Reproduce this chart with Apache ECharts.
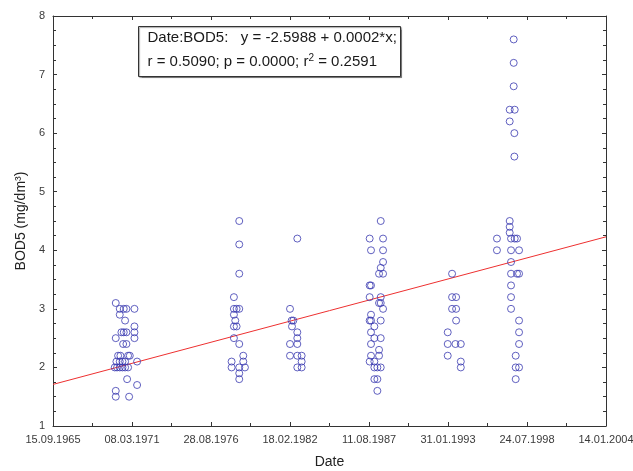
<!DOCTYPE html>
<html><head><meta charset="utf-8">
<script src="https://cdn.jsdelivr.net/npm/echarts@6/dist/echarts.min.js"></script>
<style>html,body{margin:0;padding:0;background:#fff}#c{width:633px;height:471px}</style>
</head><body><div id="c"></div>
<script>
// x values are date serial numbers (days), as used by the regression equation
const tickLabels = ['15.09.1965','08.03.1971','28.08.1976','18.02.1982','11.08.1987','31.01.1993','24.07.1998','14.01.2004'];
const xStart = 24000, xStep = 2000;

const dates1 = [25589,25690,25791,25859,26062,25690,25825,26062,25732,25791,25859,26062,25589,26062,25775,25859,25648,25707,25901,25944,25606,25690,25758,25825,26129,25563,25622,25690,25758,25825,25901,25876,26129,25589,25589,25927];
const bod1   = [3.1,3.0,3.0,3.0,3.0,2.9,2.8,2.7,2.6,2.6,2.6,2.6,2.5,2.5,2.4,2.4,2.2,2.2,2.2,2.2,2.1,2.1,2.1,2.1,2.1,2.0,2.0,2.0,2.0,2.0,2.0,1.8,1.7,1.6,1.5,1.5];

const dates2 = [28715,28715,28715,28580,28580,28648,28715,28580,28614,28580,28648,28580,28715,28817,28817,28521,28521,28715,28859,28715,28715];
const bod2   = [4.5,4.1,3.6,3.2,3.0,3.0,3.0,2.9,2.8,2.7,2.7,2.5,2.4,2.2,2.1,2.1,2.0,2.0,2.0,1.9,1.8];

const dates3 = [30185,30000,30042,30084,30050,30185,30185,30000,30185,30000,30185,30295,30295,30185,30295];
const bod3   = [4.2,3.0,2.8,2.8,2.7,2.6,2.5,2.4,2.4,2.2,2.2,2.2,2.1,2.0,2.0];

const dates4 = [32297,32017,32356,32051,32356,32356,32297,32254,32356,32017,32051,32017,32297,32254,32297,32356,32051,32017,32051,32297,32136,32051,32136,32297,32051,32254,32051,32254,32017,32136,32136,32212,32297,32136,32212,32212];
const bod4   = [4.5,4.2,4.2,4.0,4.0,3.8,3.7,3.6,3.6,3.4,3.4,3.2,3.2,3.1,3.1,3.0,2.9,2.8,2.8,2.8,2.7,2.6,2.5,2.5,2.4,2.3,2.2,2.2,2.1,2.1,2.0,2.0,2.0,1.8,1.8,1.6];

const dates5 = [34103,34103,34205,34103,34205,34205,33993,33993,34188,34324,33993,34324,34324];
const bod5   = [3.6,3.2,3.2,3.0,3.0,2.8,2.6,2.4,2.4,2.4,2.2,2.1,2.0];

const dates6 = [35663,35663,35663,35562,35689,35562,35680,35680,35562,35562,35562,35239,35596,35689,35748,35239,35596,35799,35596,35596,35748,35799,35596,35596,35596,35799,35799,35799,35714,35714,35799,35714];
const bod6   = [7.6,7.2,6.8,6.4,6.4,6.2,6.0,5.6,4.5,4.4,4.3,4.2,4.2,4.2,4.2,4.0,4.0,4.0,3.8,3.6,3.6,3.6,3.4,3.2,3.0,2.8,2.6,2.4,2.2,2.0,2.0,1.8];

// fitted line end points
const fitX = [24000, 38000];
const fitY = [1.71, 4.23];

const allDates = [dates1,dates2,dates3,dates4,dates5,dates6];
const allBod = [bod1,bod2,bod3,bod4,bod5,bod6];
const points = [];
allDates.forEach((ds,i)=>ds.forEach((d,j)=>points.push([d, allBod[i][j]])));

const chart = echarts.init(document.getElementById('c'), null, {renderer:'canvas'});
const axisCol = '#333';
const labCol = '#3a3a3a';
const fnt = 'Arial, "Liberation Sans", sans-serif';
const xCommon = {
  type:'value', min:24000, max:38000, interval:2000,
  axisLine:{show:true, lineStyle:{color:axisCol, width:1}},
  axisTick:{show:true, inside:true, length:4, lineStyle:{color:axisCol}},
  minorTick:{show:true, splitNumber:2, length:3, lineStyle:{color:axisCol}},
  splitLine:{show:false}, minorSplitLine:{show:false}
};
const yCommon = {
  type:'value', min:1, max:8, interval:1,
  axisLine:{show:true, lineStyle:{color:axisCol, width:1}},
  axisTick:{show:true, inside:true, length:4, lineStyle:{color:axisCol}},
  minorTick:{show:true, splitNumber:4, length:3, lineStyle:{color:axisCol}},
  splitLine:{show:false}, minorSplitLine:{show:false}
};
chart.setOption({
  animation:false,
  backgroundColor:'#fff',
  grid:{left:53, right:27, top:16, bottom:45, containLabel:false, outerBoundsMode:'none'},
  xAxis:[
    Object.assign({}, xCommon, {position:'bottom',
      name:'Date', nameLocation:'middle', nameGap:29,
      nameTextStyle:{fontFamily:fnt, fontSize:14, color:'#222'},
      axisLabel:{show:true, fontFamily:fnt, fontSize:11, color:labCol, margin:8,
        showMinLabel:true, showMaxLabel:true, hideOverlap:false,
        formatter:v=>tickLabels[Math.round((v-xStart)/xStep)] || ''}}),
    Object.assign({}, xCommon, {position:'top', axisLabel:{show:false}})
  ],
  yAxis:[
    Object.assign({}, yCommon, {position:'left',
      name:'BOD5 (mg/dm³)', nameLocation:'middle', nameGap:25, nameRotate:90,
      nameTextStyle:{fontFamily:fnt, fontSize:14, color:'#222'},
      axisLabel:{show:true, fontFamily:fnt, fontSize:11, color:labCol, margin:8}}),
    Object.assign({}, yCommon, {position:'right', axisLabel:{show:false}})
  ],
  graphic:[{
    type:'group', left:138, top:26,
    children:[
      {type:'rect', shape:{x:0,y:0,width:262,height:50},
       style:{fill:'#fff', stroke:'#333', lineWidth:1, shadowColor:'rgba(0,0,0,0.35)', shadowOffsetX:1, shadowOffsetY:1, shadowBlur:1}},
      {type:'text', x:9, y:4, style:{text:'Date:BOD5:   y = -2.5988 + 0.0002*x;', font:'15px Arial, "Liberation Sans", sans-serif', fill:'#1a1a1a'}},
      {type:'text', x:9, y:27, style:{text:'r = 0.5090; p = 0.0000; r{s|2} = 0.2591',
        font:'15px Arial, "Liberation Sans", sans-serif', fill:'#1a1a1a',
        rich:{s:{fontSize:10, verticalAlign:'top', padding:[0,0,7,0], fontFamily:'Arial, "Liberation Sans", sans-serif'}}}}
    ]
  }],
  series:[
    {type:'scatter', xAxisIndex:0, yAxisIndex:0, data:points, symbol:'circle', symbolSize:7,
     itemStyle:{color:'rgba(0,0,0,0)', borderColor:'#3a3ab0', borderWidth:1}, z:3},
    {type:'line', xAxisIndex:0, yAxisIndex:0, data:fitX.map((x,i)=>[x,fitY[i]]), symbol:'none',
     lineStyle:{color:'#ee3030', width:1}, z:2}
  ]
});
</script></body></html>
